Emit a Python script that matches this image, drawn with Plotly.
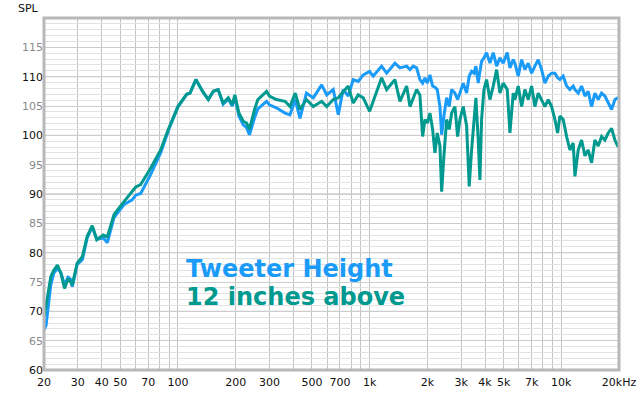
import math
import plotly.graph_objects as go

freq = [20, 20.5, 21.0, 21.7, 22.5, 23.5, 24.5, 25.6, 26.7, 27.5, 28.1, 29.8, 31.7, 33.6, 35.7, 37.7,
        40.8, 42.8, 46.4, 52.3, 57.7, 60.2, 63.9, 72, 81.2, 89, 100, 111, 115.6, 124, 135, 144,
        153, 162, 172, 183, 192, 198, 208, 219, 228, 236, 251, 261, 290, 300, 326, 362, 384, 409,
        433, 468, 508, 562, 597, 646, 686, 728, 773, 821, 872, 926, 1000, 1044, 1155, 1227, 1355,
        1439, 1560, 1623, 1688, 1759, 1829, 1890, 1943, 2000, 2064, 2131, 2191, 2253, 2327, 2375,
        2441, 2522, 2602, 2678, 2786, 2877, 2958, 3078, 3206, 3308, 3404, 3500, 3585, 3686, 3762,
        3838, 3948, 4074, 4242, 4414, 4598, 4784, 4977, 5223, 5395, 5612, 5728, 5959, 6209, 6458,
        6719, 7000, 7281, 7576, 7891, 8212, 8545, 8898, 9260, 9566, 9833, 10230, 10660, 11090,
        11540, 11780, 12250, 12760, 13280, 13810, 14390, 14970, 15580, 16220, 16880, 17570, 18300,
        19040, 19670, 20000]

spl_tweeter = [66.8, 67.6, 70.5, 74.5, 76.5, 77.3, 76.6, 74.5, 75.8, 75.5, 74.2, 78.0, 78.8, 82.5, 84.4, 82.3,
               82.5, 81.7, 86.0, 88.2, 89.0, 89.8, 90.1, 93.3, 97.0, 100.8, 104.9, 107.0, 107.2, 109.5, 107.4, 106.1,
               107.5, 107.8, 105.3, 106.2, 105.0, 106.5, 103.3, 101.8, 101.3, 100.1, 103.0, 104.5, 105.8, 105.2, 104.7, 103.8, 103.5, 106.1,
               102.9, 107.2, 106.4, 108.6, 106.9, 107.8, 103.5, 107.8, 106.7, 109.5, 109.2, 110.3, 110.9, 110.1, 111.8, 110.6, 112.3,
               111.5, 111.8, 111.2, 111.8, 111.5, 109.5, 108.9, 109.8, 108.9, 110.3, 108.4, 108.2, 107.8, 104.9, 100.1,
               103.3, 106.4, 104.9, 107.8, 107.2, 106.1, 107.2, 108.9, 107.2, 110.1, 110.9, 110.6, 111.8, 108.9, 110.9,
               112.6, 113.2, 114.1, 112.3, 114.1, 111.8, 113.2, 112.3, 114.1, 111.5, 112.9, 112.3, 110.1, 112.9, 111.2,
               112.3, 110.6, 111.8, 112.9, 111.2, 108.9, 110.1, 110.6, 110.6, 109.8, 109.5, 110.1, 108.4, 107.8,
               108.4, 107.8, 107.2, 108.4, 106.7, 107.5, 104.9, 107.2, 106.1, 107.2, 106.7, 105.5, 104.4,
               106.1, 106.3, 106.5]

spl_above = [69.1, 70.8, 73.0, 75.9, 77.0, 77.9, 76.5, 73.9, 75.6, 75.0, 74.5, 78.2, 79.3, 82.8, 84.6, 82.2,
             83.0, 82.7, 86.5, 88.7, 90.4, 91.2, 91.6, 94.4, 97.5, 101.0, 104.9, 107.0, 107.2, 109.5, 107.4, 106.1,
             107.5, 107.8, 105.5, 106.4, 105.2, 106.9, 103.8, 102.4, 102.1, 101.0, 104.4, 106.1, 107.5, 106.7, 106.1, 105.8, 104.9, 107.2,
             104.4, 106.1, 104.9, 105.8, 104.9, 106.1, 106.4, 107.5, 108.4, 105.5, 106.9, 106.4, 104.1, 105.8, 109.8, 107.8, 109.5,
             105.8, 108.4, 104.9, 106.4, 107.8, 106.9, 99.8, 102.7, 102.1, 103.8, 101.0, 97.0, 100.4, 98.2, 90.4,
             96.5, 102.7, 101.0, 103.8, 104.9, 99.8, 102.7, 104.9, 101.6, 91.3, 97.5, 102.7, 106.4, 99.2, 92.4,
             102.7, 107.8, 109.5, 106.1, 108.4, 111.2, 107.2, 108.9, 107.8, 100.4, 107.2, 106.1, 108.4, 104.9, 107.8,
             106.1, 108.4, 104.9, 107.2, 106.1, 104.9, 106.1, 104.9, 102.7, 100.4, 103.3, 102.7, 99.8, 97.5,
             98.7, 93.0, 97.5, 99.2, 96.5, 97.5, 95.3, 99.2, 98.2, 99.8, 99.2, 100.4, 101.2,
             99.2, 98.2, 98.0]

x_tick_vals = [20, 30, 40, 50, 70, 100, 200, 300, 500, 700, 1000, 2000, 3000, 4000, 5000, 7000, 10000, 20000]
x_tick_text = ["20", "30", "40", "50", "70", "100", "200", "300", "500", "700", "1k", "2k", "3k", "4k", "5k",
               "7k", "10k", "20kHz"]
x_minor_vals = sorted(set([m * d for d in (10, 100, 1000) for m in range(2, 10)] + [100, 1000, 10000, 20000]))
x_major_lines = [100, 1000, 10000]

y_tick_vals = list(range(60, 120, 5))
y_tick_text = [str(v) if v % 10 == 0 else '<span style="color:#8a8a8a">%d</span>' % v for v in y_tick_vals]
y_major_lines = [70, 80, 90, 100, 110]

BLUE = "#1a9bf8"
TEAL = "#00998f"

fig = go.Figure()
fig.add_trace(go.Scatter(x=freq, y=spl_tweeter, mode="lines", line=dict(color=BLUE, width=3),
                         name="Tweeter Height"))
fig.add_trace(go.Scatter(x=freq, y=spl_above, mode="lines", line=dict(color=TEAL, width=3),
                         name="12 inches above"))

shapes = []
for v in x_major_lines:
    shapes.append(dict(type="line", xref="x", yref="paper", x0=math.log10(v), x1=math.log10(v),
                       y0=0, y1=1, line=dict(color="#8c8c8c", width=1), layer="below"))
for v in y_major_lines:
    shapes.append(dict(type="line", xref="paper", yref="y", x0=0, x1=1, y0=v, y1=v,
                       line=dict(color="#b4b4b4", width=1), layer="below"))
shapes.append(dict(type="rect", xref="paper", yref="paper", x0=0, x1=1, y0=0, y1=1,
                   line=dict(color="#b8b8b8", width=3), layer="above"))

fig.update_layout(
    width=640, height=394,
    margin=dict(l=44, r=21, t=18, b=24, autoexpand=False),
    paper_bgcolor="white", plot_bgcolor="white",
    showlegend=False,
    font=dict(family="DejaVu Sans", size=11, color="#111111"),
    shapes=shapes,
    xaxis=dict(type="log", range=[math.log10(20), math.log10(20000)], automargin=False,
               tickmode="array", tickvals=x_tick_vals, ticktext=x_tick_text,
               showgrid=False, zeroline=False, ticks="", showline=False, ticklabelstandoff=4,
               tickfont=dict(family="DejaVu Sans", size=11, color="#111111"),
               minor=dict(tickmode="array", tickvals=x_minor_vals, showgrid=True,
                          gridcolor="#c4c4c4", gridwidth=1, ticks="")),
    yaxis=dict(range=[60, 120], tickmode="array", tickvals=y_tick_vals, ticktext=y_tick_text,
               automargin=False,
               showgrid=True, gridcolor="#cdcdcd", gridwidth=1, zeroline=False, ticks="",
               showline=False, tickfont=dict(family="DejaVu Sans", size=11, color="#111111"),
               minor=dict(dtick=1, showgrid=True, gridcolor="#e2e2e2", gridwidth=1, ticks="")),
    annotations=[
        dict(text="SPL", xref="paper", yref="paper", x=(16 - 44) / 575, y=(370 - 9) / 352,
             xanchor="left", yanchor="middle", showarrow=False,
             font=dict(family="DejaVu Sans", size=11, color="#111111")),
        dict(text="<b>Tweeter Height</b>", xref="paper", yref="paper", x=(184 - 44) / 575,
             y=(370 - 268.5) / 352, xanchor="left", yanchor="middle", showarrow=False,
             font=dict(family="DejaVu Sans", size=24, color=BLUE)),
        dict(text="<b>12 inches above</b>", xref="paper", yref="paper", x=(184 - 44) / 575,
             y=(370 - 296.5) / 352, xanchor="left", yanchor="middle", showarrow=False,
             font=dict(family="DejaVu Sans", size=24, color=TEAL)),
    ],
)

fig.write_html("out.html")
